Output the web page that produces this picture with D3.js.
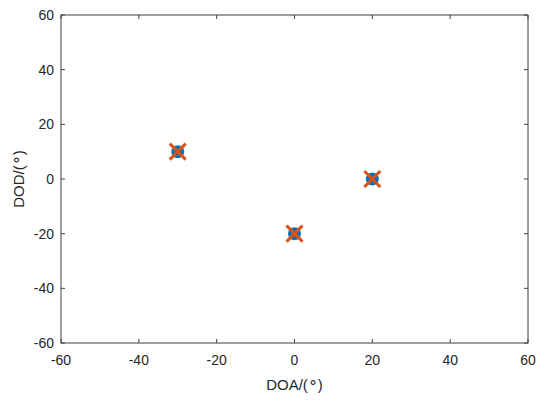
<!DOCTYPE html>
<html>
<head>
<meta charset="utf-8">
<script src="https://cdn.jsdelivr.net/npm/d3@7"></script>
<style>
  body { margin: 0; background: #fff; }
  text { font-family: "Liberation Sans", Arial, sans-serif; fill: #262626; }
</style>
</head>
<body>
<script>
// estimated DOA / DOD pairs
const doa = [-30, 0, 20];
const dod = [10, -20, 0];
const xTicks = [-60, -40, -20, 0, 20, 40, 60];
const yTicks = [-60, -40, -20, 0, 20, 40, 60];

const W = 550, H = 404;
const margin = {left: 61, right: 22, top: 15, bottom: 61};

const svg = d3.select('body').append('svg')
  .attr('width', W).attr('height', H);

const x = d3.scaleLinear().domain([-60, 60]).range([margin.left, W - margin.right]);
const y = d3.scaleLinear().domain([-60, 60]).range([H - margin.bottom, margin.top]);

const axisColor = '#404040';

// box
svg.append('rect')
  .attr('x', x(-60)).attr('y', y(60))
  .attr('width', x(60) - x(-60)).attr('height', y(-60) - y(60))
  .attr('fill', 'none').attr('stroke', axisColor).attr('stroke-width', 1);

// ticks (inside, all four sides)
const tl = 4;
let ticks = svg.append('g').attr('stroke', axisColor).attr('stroke-width', 1);
xTicks.forEach(t => {
  ticks.append('line').attr('x1', x(t)).attr('x2', x(t)).attr('y1', y(-60)).attr('y2', y(-60) - tl);
  ticks.append('line').attr('x1', x(t)).attr('x2', x(t)).attr('y1', y(60)).attr('y2', y(60) + tl);
});
yTicks.forEach(t => {
  ticks.append('line').attr('y1', y(t)).attr('y2', y(t)).attr('x1', x(-60)).attr('x2', x(-60) + tl);
  ticks.append('line').attr('y1', y(t)).attr('y2', y(t)).attr('x1', x(60)).attr('x2', x(60) - tl);
});

// tick labels
svg.append('g').selectAll('text').data(xTicks).enter().append('text')
  .attr('x', d => x(d)).attr('y', y(-60) + 22)
  .attr('text-anchor', 'middle').attr('font-size', 14)
  .text(d => d);

svg.append('g').selectAll('text').data(yTicks).enter().append('text')
  .attr('x', x(-60) - 7).attr('y', d => y(d) + 5)
  .attr('text-anchor', 'end').attr('font-size', 14)
  .text(d => d);

// axis labels, degree sign as a slightly raised circle
function degLabel(sel, name) {
  sel.append('tspan').text(name + '/(');
  sel.append('tspan').attr('dy', -2).attr('font-size', 16).text('\u2218');
  sel.append('tspan').attr('dy', 2).text(')');
}

svg.append('text')
  .attr('x', (x(-60) + x(60)) / 2).attr('y', y(-60) + 47)
  .attr('text-anchor', 'middle').attr('font-size', 15)
  .call(degLabel, 'DOA');

svg.append('text')
  .attr('transform', 'translate(24,' + ((y(-60) + y(60)) / 2) + ') rotate(-90)')
  .attr('text-anchor', 'middle').attr('font-size', 15)
  .call(degLabel, 'DOD');

const pts = doa.map((d, i) => ({a: d, b: dod[i]}));

// blue dots
svg.append('g').selectAll('circle').data(pts).enter().append('circle')
  .attr('cx', d => x(d.a)).attr('cy', d => y(d.b))
  .attr('r', 6.5).attr('fill', '#0072BD');

// orange crosses
const s = 8;
let crosses = svg.append('g').attr('stroke', '#D95319').attr('stroke-width', 3);
pts.forEach(d => {
  const cx = x(d.a), cy = y(d.b);
  crosses.append('line').attr('x1', cx - s).attr('y1', cy - s).attr('x2', cx + s).attr('y2', cy + s);
  crosses.append('line').attr('x1', cx - s).attr('y1', cy + s).attr('x2', cx + s).attr('y2', cy - s);
});
</script>
</body>
</html>
